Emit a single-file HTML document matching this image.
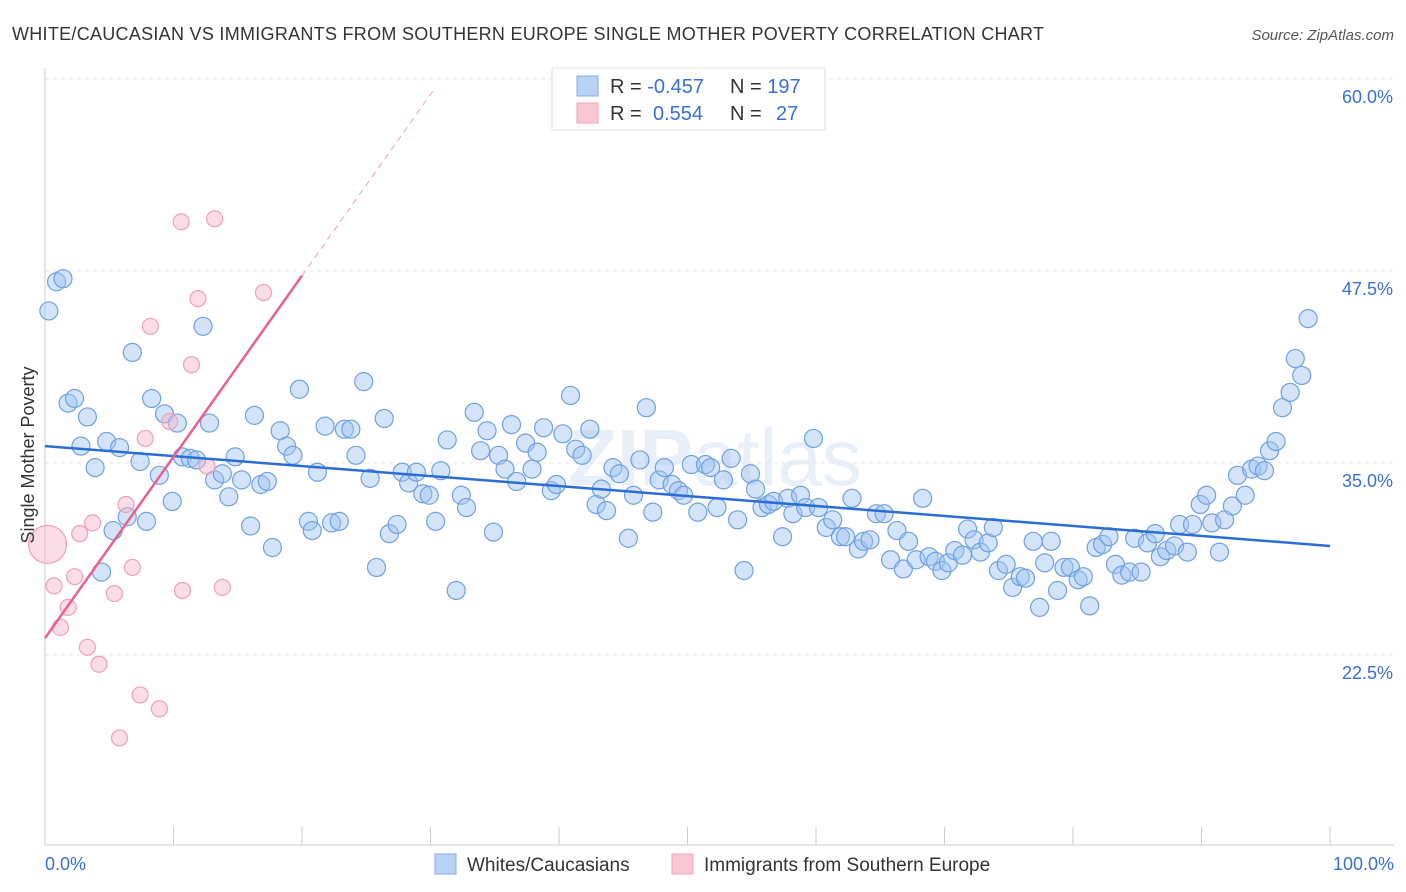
<!DOCTYPE html>
<html><head><meta charset="utf-8"><style>
body{margin:0;background:#fff;font-family:"Liberation Sans",sans-serif;}
svg{display:block}
</style></head><body>
<svg id="chart" width="1406" height="892" xmlns="http://www.w3.org/2000/svg">
<text x="12" y="40" font-size="18" fill="#333" textLength="1032" lengthAdjust="spacing">WHITE/CAUCASIAN VS IMMIGRANTS FROM SOUTHERN EUROPE SINGLE MOTHER POVERTY CORRELATION CHART</text>
<text x="1394" y="40" font-size="15" fill="#555" font-style="italic" text-anchor="end">Source: ZipAtlas.com</text>
<text x="715" y="485" font-size="80" font-weight="bold" fill="#e8eff8" text-anchor="middle">ZIP<tspan font-weight="normal">atlas</tspan></text>
<g id="grid"></g><g id="axes"></g><g id="pts"></g><g id="lines"></g>
<text x="34" y="455" font-size="18" fill="#333" text-anchor="middle" transform="rotate(-90 34 455)">Single Mother Poverty</text>
<text x="45" y="870" font-size="18" fill="#3a6fd0">0.0%</text>
<text x="1394" y="870" font-size="18" fill="#3a6fd0" text-anchor="end">100.0%</text>
<g>
<rect x="552" y="68" width="273" height="62" fill="#fff" stroke="#ddd"/>
<rect x="577" y="76" width="21" height="20" fill="#b8d2f4" stroke="#86aee6"/>
<rect x="577" y="103" width="21" height="20" fill="#f8c6d4" stroke="#eea6bc"/>
<text x="610" y="93" font-size="20" fill="#333">R = <tspan fill="#3a6fd0">-0.457</tspan><tspan x="730">N = </tspan><tspan fill="#3a6fd0">197</tspan></text>
<text x="610" y="120" font-size="20" fill="#333">R = <tspan x="653" fill="#3a6fd0">0.554</tspan><tspan x="730">N = </tspan><tspan x="776" fill="#3a6fd0">27</tspan></text>
</g>
<g>
<rect x="435" y="854" width="21" height="20" fill="#b8d2f4" stroke="#86aee6"/>
<text x="467" y="871" font-size="19" fill="#333">Whites/Caucasians</text>
<rect x="672" y="854" width="21" height="20" fill="#f8c6d4" stroke="#eea6bc"/>
<text x="704" y="871" font-size="19" fill="#333">Immigrants from Southern Europe</text>
</g>
</svg>
<script>
const yTicks=[22.5,35,47.5,60];
const yTickLabels=["22.5%","35.0%","47.5%","60.0%"];
const xTicks=[0,10,20,30,40,50,60,70,80,90,100];
const blueX=[0.3,0.9,1.4,1.8,2.3,3.3,2.8,3.9,4.4,4.8,5.3,5.8,6.4,6.8,7.4,7.9,8.3,8.9,9.3,9.9,10.3,10.7,11.3,11.8,12.3,12.8,13.2,13.8,14.3,14.8,15.3,16.0,16.3,16.8,17.3,17.7,18.3,18.8,19.3,19.8,20.5,20.8,21.2,21.8,22.3,22.9,23.3,23.8,24.2,24.8,25.3,25.8,26.4,26.8,27.4,27.8,28.3,28.9,29.4,29.9,30.4,30.8,31.3,32.0,32.4,32.8,33.4,33.9,34.4,34.9,35.3,35.8,36.3,36.7,37.4,37.9,38.3,38.8,39.4,39.8,40.3,40.9,41.3,41.8,42.4,42.9,43.3,43.7,44.2,44.7,45.4,45.8,46.3,46.8,47.3,47.8,48.2,48.8,49.3,49.7,50.3,50.8,51.4,51.8,52.3,52.8,53.4,53.9,54.4,54.9,55.3,55.8,56.3,56.7,57.4,57.8,58.2,58.8,59.2,59.8,60.2,60.8,61.3,61.9,62.3,62.8,63.3,63.7,64.2,64.7,65.3,65.8,66.3,66.8,67.2,67.8,68.3,68.8,69.3,69.8,70.3,70.8,71.4,71.8,72.3,72.8,73.4,73.8,74.2,74.8,75.3,75.9,76.3,76.9,77.4,77.8,78.3,78.8,79.3,79.8,80.4,80.8,81.3,81.8,82.3,82.8,83.3,83.8,84.4,84.8,85.3,85.8,86.4,86.8,87.3,87.9,88.3,88.9,89.3,89.9,90.4,90.8,91.4,91.8,92.4,92.8,93.4,93.9,94.4,94.9,95.3,95.8,96.3,96.9,97.3,97.8,98.3];
const blueY=[44.9,46.8,47.0,38.9,39.2,38.0,36.1,34.7,27.9,36.4,30.6,36.0,31.5,42.2,35.1,31.2,39.2,34.2,38.2,32.5,37.6,35.4,35.3,35.2,43.9,37.6,33.9,34.3,32.8,35.4,33.9,30.9,38.1,33.6,33.8,29.5,37.1,36.1,35.5,39.8,31.2,30.6,34.4,37.4,31.1,31.2,37.2,37.2,35.5,40.3,34.0,28.2,37.9,30.4,31.0,34.4,33.7,34.4,33.0,32.9,31.2,34.5,36.5,26.7,32.9,32.1,38.3,35.8,37.1,30.5,35.5,34.6,37.5,33.8,36.3,34.6,35.7,37.3,33.2,33.6,36.9,39.4,35.9,35.5,37.2,32.3,33.3,31.9,34.7,34.3,30.1,32.9,35.2,38.6,31.8,33.9,34.7,33.6,33.2,32.9,34.9,31.8,34.9,34.7,32.1,33.9,35.3,31.3,28.0,34.3,33.3,32.1,32.3,32.5,30.2,32.7,31.7,32.9,32.1,36.6,32.1,30.8,31.3,30.2,30.2,32.7,29.4,29.9,30.0,31.7,31.7,28.7,30.6,28.1,29.9,28.7,32.7,28.9,28.6,28.0,28.5,29.3,29.0,30.7,30.0,29.2,29.8,30.8,28.0,28.4,26.9,27.6,27.5,29.9,25.6,28.5,29.9,26.7,28.2,28.2,27.4,27.6,25.7,29.5,29.7,30.2,28.4,27.7,27.9,30.1,27.9,29.8,30.4,28.9,29.3,29.6,31.0,29.2,31.0,32.3,32.9,31.1,29.2,31.3,32.2,34.2,32.9,34.6,34.8,34.5,35.8,36.4,38.6,39.6,41.8,40.7,44.4];
const pinkX=[0.7,1.2,1.8,2.3,2.7,3.3,3.7,4.2,5.4,5.8,6.3,6.8,7.4,7.8,8.2,8.9,9.7,10.6,10.7,11.4,11.9,12.6,13.2,13.8,17.0];
const pinkY=[27.0,24.3,25.6,27.6,30.4,23.0,31.1,21.9,26.5,17.1,32.3,28.2,19.9,36.6,43.9,19.0,37.7,50.7,26.7,41.4,45.7,34.8,50.9,26.9,46.1];
const pinkBigX=[0.2];
const pinkBigY=[29.7];
const blueTrend=[36.1,29.6];
const pinkTrend=[23.6,1.18];
const NS='http://www.w3.org/2000/svg';
const sx=v=>45+v*12.85;
const sy=v=>79+(60-v)*15.36;
function mk(tag,attrs,parent){const e=document.createElementNS(NS,tag);for(const k in attrs)e.setAttribute(k,attrs[k]);document.getElementById(parent).appendChild(e);return e;}
yTicks.forEach((t,i)=>{
 const g=mk('line',{x1:45,x2:1394,y1:sy(t),y2:sy(t),stroke:'#e4e4e4','stroke-dasharray':'4,4'},'grid');
 
 
 const tx=mk('text',{x:1393,y:sy(t)+24,'font-size':18,fill:'#3a6fd0','text-anchor':'end'},'grid');
 tx.textContent=yTickLabels[i];
 
 
});
const ax=mk('line',{x1:45,x2:45,y1:68,y2:845,stroke:'#ccc'},'axes');


const bx=mk('line',{x1:45,x2:1394,y1:845,y2:845,stroke:'#ccc'},'axes');


xTicks.forEach(t=>{
 const l=mk('line',{x1:sx(t),x2:sx(t),y1:827,y2:845,stroke:'#ccc'},'axes');
 
 
});
blueX.forEach((x,i)=>{
 const c=mk('circle',{cx:sx(x),cy:sy(blueY[i]),r:9,fill:'rgba(160,196,240,0.45)',stroke:'#6fa0e0','stroke-width':1.2},'pts');
 
 
});
pinkX.forEach((x,i)=>{
 const c=mk('circle',{cx:sx(x),cy:sy(pinkY[i]),r:8,fill:'rgba(245,180,200,0.45)',stroke:'#f0a0b8','stroke-width':1.2},'pts');
 
 
});
pinkBigX.forEach((x,i)=>{
 const c=mk('circle',{cx:sx(x),cy:sy(pinkBigY[i]),r:19,fill:'rgba(245,180,200,0.45)',stroke:'#f0a0b8','stroke-width':1.2},'pts');
 
 
});
const bl=mk('line',{x1:sx(0),y1:sy(blueTrend[0]),x2:sx(100),y2:sy(blueTrend[1]),stroke:'#2a6dd4','stroke-width':2.5},'lines');


const pl=mk('line',{x1:sx(0),y1:sy(pinkTrend[0]),x2:sx(20),y2:sy(pinkTrend[0]+pinkTrend[1]*20),stroke:'#e8608e','stroke-width':2.5},'lines');


const pd=mk('line',{x1:sx(20),y1:sy(pinkTrend[0]+pinkTrend[1]*20),x2:sx(30.3),y2:sy(pinkTrend[0]+pinkTrend[1]*30.3),stroke:'#f0a0b8','stroke-width':1,'stroke-dasharray':'6,5'},'lines');


</script>
</body></html>
